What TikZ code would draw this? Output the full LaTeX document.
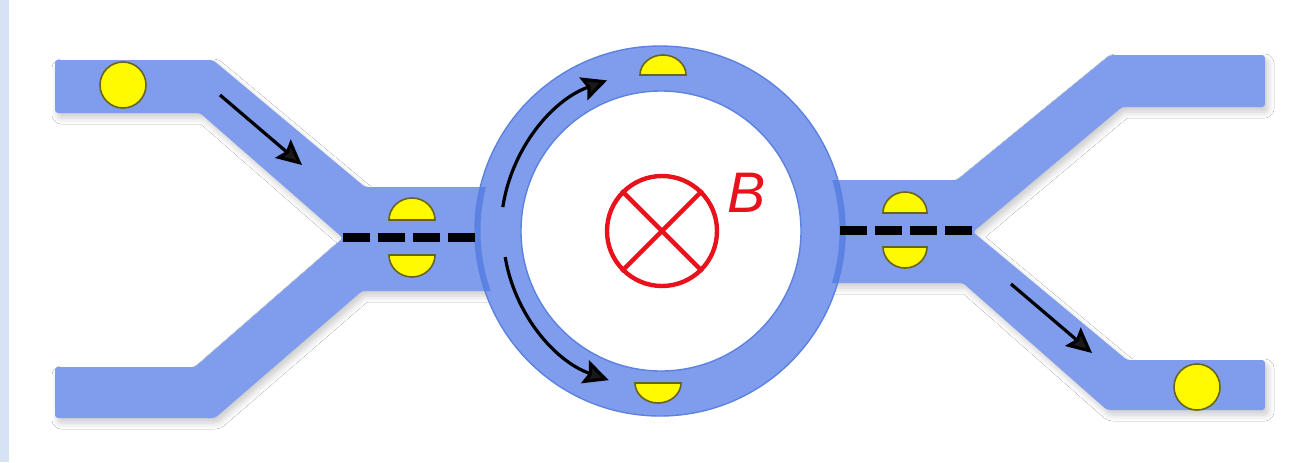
\documentclass[tikz,border=0pt]{standalone}
\usepackage{fontspec}
\setsansfont{Liberation Sans}
\usetikzlibrary{arrows.meta,shadows.blur}
\definecolor{guide}{RGB}{127,157,236}
\definecolor{guideedge}{RGB}{92,130,224}
\definecolor{ringdark}{RGB}{70,115,222}
\definecolor{dot}{RGB}{255,250,0}
\definecolor{dotedge}{RGB}{105,100,25}
\definecolor{field}{RGB}{232,18,28}
\definecolor{sidebar}{RGB}{214,227,245}
\tikzset{
  guide/.style={fill=guide, draw=none, rounded corners=1.5pt},
  softshadow/.style={blur shadow={shadow xshift=1.5pt, shadow yshift=-2.5pt,
      shadow opacity=20, shadow blur steps=6, shadow blur radius=3pt}},
  electron/.style={circle, fill=dot, draw=dotedge, line width=0.8pt,
      minimum size=23pt, inner sep=0pt},
  halfdot/.style={fill=dot, draw=dotedge, line width=0.8pt},
  flow/.style={line width=1.6pt, -{Stealth[length=12.5pt,width=12pt,inset=2pt]}},
  split/.style={line width=4.5pt, dash pattern=on 13.5pt off 4pt},
}
\begin{document}
\begin{tikzpicture}[x=0.5pt,y=-0.5pt]
\useasboundingbox (0,0) rectangle (1290,462);
\fill[white] (0,0) rectangle (1290,462);
\fill[sidebar] (0,0) rectangle (9,462);

% input Y-splitter
\path[guide, softshadow] (55,60) -- (213,60) -- (365,187) -- (495,187) -- (495,291)
  -- (362,291) -- (215,418) -- (55,418) -- (55,367) -- (195,367)
  -- (343,238) -- (200,113) -- (55,113) -- cycle;

% output Y-splitter
\path[guide, softshadow] (826,180) -- (957,180) -- (1110,55) -- (1265,55) -- (1265,107)
  -- (1122,107) -- (973,232) -- (1127,360) -- (1265,360) -- (1265,410)
  -- (1107,410) -- (963,283) -- (826,283) -- cycle;

% ring
\coordinate (ring) at (661,231);
\path[fill=guide, draw=guideedge, line width=0.7pt, even odd rule]
  (660,231) circle[radius=185] (661,231) circle[radius=140];

% darker rim where the ring meets the splitters
\begin{scope}
  \clip (460,187) rectangle (500,291) (820,180) rectangle (860,283);
  \draw[ringdark, line width=2.5pt, opacity=0.6] (660,231) circle[radius=182];
\end{scope}

% beam-splitter lines
\draw[split] (343,237) -- (477,237);
\draw[split] (840,230) -- (972,230);

% electrons
\node[electron] (ein) at (123,85) {};
\node[electron] (eout) at (1197,387) {};

% split wave packets
\path[halfdot] (389,220) arc[start angle=180, end angle=360, x radius=23, y radius=22] -- cycle;
\path[halfdot] (389,255) arc[start angle=180, end angle=0, x radius=23, y radius=22] -- cycle;
\path[halfdot] (883,213) arc[start angle=180, end angle=360, x radius=22, y radius=21] -- cycle;
\path[halfdot] (883,247) arc[start angle=180, end angle=0, x radius=22, y radius=21] -- cycle;
\path[halfdot] (640,75) arc[start angle=180, end angle=360, x radius=23, y radius=20] -- cycle;
\path[halfdot] (635,383) arc[start angle=180, end angle=0, x radius=23, y radius=20] -- cycle;

% propagation arrows
\coordinate (inA) at (220,95);
\coordinate (inB) at (302,165);
\coordinate (outA) at (1011,284);
\coordinate (outB) at (1092,353);
\draw[flow] (inA) -- (inB);
\draw[flow] (outA) -- (outB);
\draw[flow] (ring) ++(188.6:160) arc[start angle=188.6, end angle=250.3, radius=160];
\draw[flow] (ring) ++(170.5:158) arc[start angle=170.5, end angle=109.3, radius=158];

% magnetic field into the page
\node[circle, draw=field, line width=2.2pt, minimum size=55pt, inner sep=0pt] (bfield) at (662,231) {};
\draw[field, line width=2.2pt] (bfield.45) -- (bfield.225);
\draw[field, line width=2.2pt] (bfield.135) -- (bfield.315);
\node[text=field, font=\sffamily\itshape\fontsize{28.6}{30}\selectfont, inner sep=0pt] (blabel) at (747,193) {B};
\end{tikzpicture}
\end{document}
